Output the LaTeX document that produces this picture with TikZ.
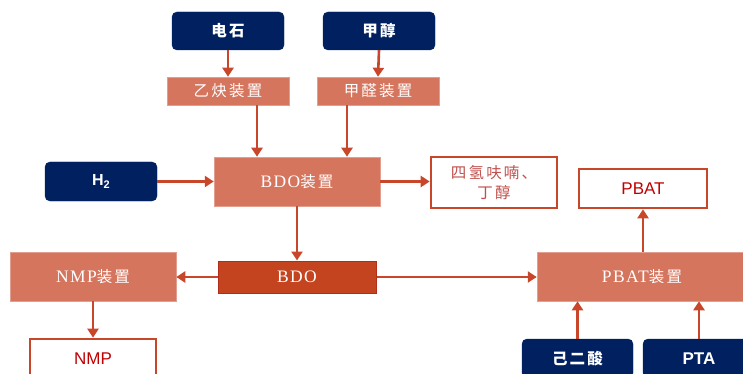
\documentclass[tikz,border=0pt]{standalone}
\usepackage{fontspec}
\setmainfont{Liberation Serif}
\newfontfamily\cjk[LetterSpace=14]{Noto Sans CJK SC}
\newfontfamily\ser[LetterSpace=8]{Liberation Serif}
\newfontfamily\sns{Liberation Sans}
\usetikzlibrary{arrows.meta}
\definecolor{navy}{HTML}{002060}
\definecolor{salmon}{HTML}{D5755E}
\definecolor{arrowc}{HTML}{C8472B}
\definecolor{bdofill}{HTML}{C4441F}
\definecolor{bdoline}{HTML}{B32E18}
\definecolor{redtxt}{HTML}{C00000}
\definecolor{thftxt}{HTML}{C0504D}
\newcommand\cj[1]{{\cjk\fontsize{15.5}{20}\selectfont #1}}
\newcommand\la[1]{{\ser\fontsize{17.5}{20}\selectfont #1}}
\tikzset{
  navybox/.style={fill=navy, draw=navy, rounded corners=5pt, text=white, inner sep=0pt, font=\bfseries},
  salbox/.style={fill=salmon, draw=salmon!70!white, line width=0.5pt, text=white, inner sep=0pt},
  wbox/.style={fill=white, draw=arrowc, line width=2.6pt, inner sep=0pt},
  arr/.style={draw=arrowc, line width=2.6pt, -{Triangle[length=9pt,width=11pt]}}
}
\begin{document}
\begin{tikzpicture}[x=1pt,y=-1pt]
\useasboundingbox (0,0) rectangle (743,374);
\clip (0,0) rectangle (743,374);
% top sources
\node[navybox, minimum width=112pt, minimum height=38pt] (dianshi) at (228,31) {\cj{电石}};
\node[navybox, minimum width=112pt, minimum height=38pt] (jiachun) at (379,31) {\cj{甲醇}};
\node[salbox, minimum width=122pt, minimum height=28pt] (yique) at (228,91) {\cj{乙炔装置}};
\node[salbox, minimum width=122pt, minimum height=28pt] (jiaquan) at (378,91) {\cj{甲醛装置}};
% middle row
\node[salbox, minimum width=166pt, minimum height=49pt] (bdoz) at (297,181.5) {\la{BDO}\cj{装置}};
\node[navybox, minimum width=112pt, minimum height=39pt] (h2) at (101,181.5) {\sns\bfseries\fontsize{16}{18}\selectfont H\raisebox{-0.35ex}{\fontsize{11}{12}\selectfont 2}};
\node[wbox, minimum width=126pt, minimum height=51pt, align=center, text=thftxt, font=\cjk\fontsize{15.5}{20.5}\selectfont] (thf) at (494,182.5) {四氢呋喃、\\丁醇};
\node[wbox, minimum width=128pt, minimum height=39pt, text=redtxt] (pbat) at (643,188.5) {\sns\fontsize{17}{19}\selectfont PBAT};
% lower row
\node[salbox, minimum width=166pt, minimum height=49pt] (nmpz) at (93,276.5) {\la{NMP}\cj{装置}};
\node[fill=bdofill, draw=bdoline, line width=1pt, text=white, inner sep=0pt, minimum width=158pt, minimum height=32pt] (bdo) at (297,277) {\la{BDO}};
\node[salbox, minimum width=210pt, minimum height=49pt] (pbatz) at (642,276.5) {\la{PBAT}\cj{装置}};
% bottom
\node[wbox, minimum width=126pt, minimum height=39pt, text=redtxt] (nmp) at (93,358.5) {\sns\fontsize{17}{19}\selectfont NMP};
\node[navybox, minimum width=111pt, minimum height=39pt] (adipic) at (577.5,358.5) {\cj{己二酸}};
\node[navybox, minimum width=112pt, minimum height=39pt] (pta) at (699,358.5) {\sns\bfseries\fontsize{17}{19}\selectfont PTA};
% arrows
\draw[arr] (dianshi.south) -- (yique.north);
\draw[arr] (jiachun.south) -- (jiaquan.north);
\draw[arr] ([xshift=29pt]yique.south) -- ([xshift=29pt]yique.south |- bdoz.north);
\draw[arr] ([xshift=-31pt]jiaquan.south) -- ([xshift=-31pt]jiaquan.south |- bdoz.north);
\draw[arr] (h2.east) -- (h2.east -| bdoz.west);
\draw[arr] (bdoz.east) -- (bdoz.east -| thf.west);
\draw[arr] (bdoz.south) -- (bdo.north);
\draw[arr] (bdo.west) -- (bdo.west -| nmpz.east);
\draw[arr] (bdo.east) -- (bdo.east -| pbatz.west);
\draw[arr] (nmpz.south) -- (nmp.north);
\draw[arr] (pbat.south |- pbatz.north) -- (pbat.south);
\draw[arr] (adipic.north) -- (adipic.north |- pbatz.south);
\draw[arr] (pta.north) -- (pta.north |- pbatz.south);
\end{tikzpicture}
\end{document}
